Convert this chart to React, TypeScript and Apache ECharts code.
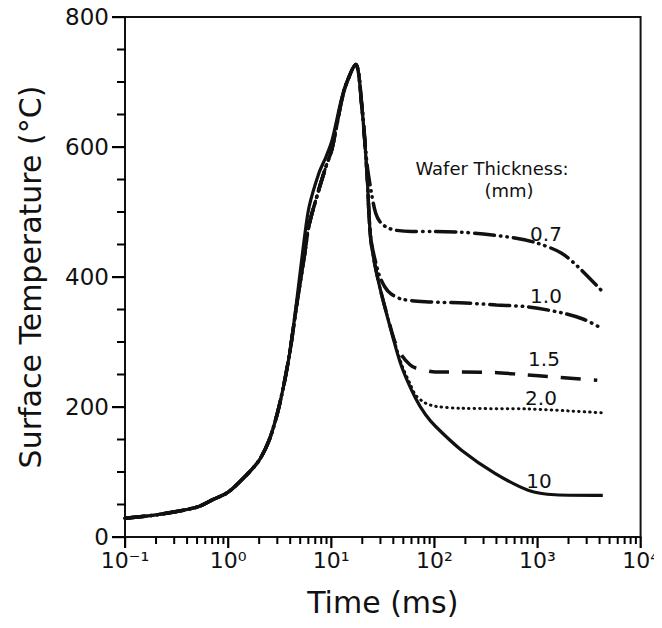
import React, { useEffect, useRef } from "react";
import * as echarts from "echarts";

// Time (ms) vs surface temperature (°C) for each wafer thickness (mm)
const thick10: [number, number][] = [
  [0.1, 29], [0.2, 34], [0.5, 46], [0.7, 57], [1, 69], [1.5, 95], [2, 118], [2.5, 149],
  [3, 190], [3.5, 237], [4, 288], [4.6, 360], [5.46, 457], [6.1, 508], [7.6, 560],
  [8.9, 585], [10.2, 611], [13.3, 688], [17.3, 727], [19.8, 662], [22.2, 560],
  [24.2, 457], [28.9, 391], [38.6, 314], [48.2, 262], [65.9, 213], [82.3, 188],
  [103, 170], [182, 134], [387, 98], [812, 72], [1480, 65], [4300, 64],
];
const thick07: [number, number][] = [
  [0.1, 29], [0.2, 34], [0.5, 46], [0.7, 57], [1, 69], [1.5, 95], [2, 118], [2.5, 149],
  [3, 190], [3.5, 237], [4, 288], [4.6, 355], [5.46, 430], [6.1, 480], [7.6, 535],
  [8.9, 570], [10.2, 598], [13.3, 686], [17.3, 727], [19.8, 665], [22.2, 575],
  [24.5, 530], [27, 498], [30, 484], [35, 476], [42, 472], [60, 470], [100, 470],
  [182, 469], [300, 466], [603, 460], [1000, 452], [1700, 437], [2500, 415], [4300, 377],
];
const thick10mm1: [number, number][] = [
  [0.1, 29], [0.2, 34], [0.5, 46], [0.7, 57], [1, 69], [1.5, 95], [2, 118], [2.5, 149],
  [3, 190], [3.5, 237], [4, 288], [4.6, 355], [5.46, 430], [6.1, 480], [7.6, 535],
  [8.9, 570], [10.2, 598], [13.3, 686], [17.3, 727], [19.8, 662], [22.2, 562],
  [24.2, 460], [28.9, 405], [33, 385], [38, 374], [48, 366], [82, 362], [200, 360],
  [400, 357], [812, 354], [1700, 345], [2800, 335], [4300, 320],
];
const thick15: [number, number][] = [
  [0.1, 29], [0.2, 34], [0.5, 46], [0.7, 57], [1, 69], [1.5, 95], [2, 118], [2.5, 149],
  [3, 190], [3.5, 237], [4, 288], [4.6, 355], [5.46, 430], [6.1, 480], [7.6, 535],
  [8.9, 570], [10.2, 598], [13.3, 686], [17.3, 727], [19.8, 662], [22.2, 560],
  [24.2, 457], [28.9, 391], [38.6, 316], [42, 298], [48, 280], [58, 265], [66, 260],
  [103, 254], [182, 254], [387, 253], [700, 250], [1500, 246], [3800, 241],
];
const thick20: [number, number][] = [
  [0.1, 29], [0.2, 34], [0.5, 46], [0.7, 57], [1, 69], [1.5, 95], [2, 118], [2.5, 149],
  [3, 190], [3.5, 237], [4, 288], [4.6, 355], [5.46, 430], [6.1, 480], [7.6, 535],
  [8.9, 570], [10.2, 598], [13.3, 686], [17.3, 727], [19.8, 662], [22.2, 560],
  [24.2, 457], [28.9, 391], [38.6, 316], [48.2, 265], [58, 236], [66, 218], [82, 206],
  [103, 201], [182, 198], [812, 197], [2000, 194], [4300, 191],
];

const xMajorTicks = [0.1, 1, 10, 100, 1000, 10000];
const minorMultipliers = [2, 3, 4, 5, 6, 7, 8, 9];
const yMajorTicks = [0, 200, 400, 600, 800];
const yMinorTicks = [50, 100, 150, 250, 300, 350, 450, 500, 550, 650, 700, 750];
const curveLabels = ["0.7", "1.0", "1.5", "2.0", "10"];

const FONT = "DejaVu Sans";
const INK = "#111";

const sup: Record<string, string> = {
  "-": "\u207B", "0": "\u2070", "1": "\u00B9", "2": "\u00B2", "3": "\u00B3", "4": "\u2074",
};

export default function App() {
  const ref = useRef<HTMLDivElement>(null);
  useEffect(() => {
    if (!ref.current) return;
    const chart = echarts.init(ref.current, undefined, { renderer: "svg" });

    const lineSeries = (name: string, data: [number, number][], lineStyle: any, z: number) => ({
      name,
      type: "line",
      data,
      smooth: 0.3,
      showSymbol: false,
      symbol: "none",
      z,
      lineStyle: { color: INK, width: 3, ...lineStyle },
    });

    const textEl = (text: string, x: number, y: number, size: number) => ({
      type: "text", x, y, z: 50,
      style: { text, font: `${size}px "${FONT}"`, fill: INK, align: "center", verticalAlign: "middle" },
    });

    chart.setOption({
      animation: false,
      backgroundColor: "#fff",
      grid: {
        left: 125, right: 19, top: 17, bottom: 91,
        show: true, borderColor: INK, borderWidth: 2, backgroundColor: "transparent",
      },
      xAxis: {
        type: "log",
        logBase: 10,
        min: 0.1,
        max: 10000,
        name: "Time (ms)",
        nameLocation: "middle",
        nameGap: 50,
        nameTextStyle: { fontFamily: FONT, fontSize: 30, color: INK },
        axisLine: { show: true, lineStyle: { color: INK, width: 2 } },
        axisTick: { show: false },
        axisLabel: {
          fontFamily: FONT, fontSize: 22, color: INK, margin: 12,
          formatter: (v: number) => {
            const e = String(Math.round(Math.log10(v)));
            return "10" + e.split("").map((c) => sup[c] || c).join("");
          },
        },
        splitLine: { show: false },
      },
      yAxis: {
        type: "value",
        min: 0,
        max: 800,
        interval: 200,
        name: "Surface Temperature (\u00B0C)",
        nameLocation: "middle",
        nameGap: 80,
        nameTextStyle: { fontFamily: FONT, fontSize: 30, color: INK },
        axisLine: { show: true, lineStyle: { color: INK, width: 2 } },
        axisTick: { show: false },
        axisLabel: { fontFamily: FONT, fontSize: 23, color: INK, margin: 16 },
        splitLine: { show: false },
      },
      series: [
        lineSeries("10", thick10, { type: "solid", width: 3.2 }, 5),
        lineSeries("0.7", thick07, { type: [20, 6, 0.5, 6, 0.5, 6], cap: "round", width: 3.5 }, 4),
        lineSeries("1.0", thick10mm1, { type: [20, 6, 0.5, 6, 0.5, 6], cap: "round", width: 3.5 }, 4),
        lineSeries("1.5", thick15, { type: [20, 13], cap: "butt", width: 3.5 }, 4),
        lineSeries("2.0", thick20, { type: [0.5, 5], cap: "round", width: 3 }, 4),
      ],
    });

    // Axis ticks placed through the chart's own scales
    const toPx = (x: number, y: number) =>
      chart.convertToPixel({ gridIndex: 0 }, [x, y]) as number[];
    const tickRect = (x: number, y: number, w: number, h: number) => ({
      type: "rect", z: 40, silent: true,
      shape: { x, y, width: w, height: h },
      style: { fill: "#000" },
    });
    const ticks: any[] = [];
    xMajorTicks.forEach((d, i) => {
      const p = toPx(d, 0);
      ticks.push(tickRect(p[0] - 1, p[1], 2.2, 11));
      if (i < xMajorTicks.length - 1) {
        minorMultipliers.forEach((m) => {
          const q = toPx(d * m, 0);
          ticks.push(tickRect(q[0] - 1, q[1], 2, 7));
        });
      }
    });
    yMajorTicks.forEach((v) => {
      const p = toPx(0.1, v);
      ticks.push(tickRect(p[0] - 13, p[1] - 1, 13, 2.2));
    });
    yMinorTicks.forEach((v) => {
      const p = toPx(0.1, v);
      ticks.push(tickRect(p[0] - 8, p[1] - 1, 9, 2));
    });

    chart.setOption({
      graphic: [
        textEl("Wafer Thickness:", 492, 168, 18),
        textEl("(mm)", 509, 190, 18),
        textEl(curveLabels[0], 546, 234, 20),
        textEl(curveLabels[1], 546, 296, 20),
        textEl(curveLabels[2], 544, 359, 20),
        textEl(curveLabels[3], 541, 398, 20),
        textEl(curveLabels[4], 539, 481, 20),
        ...ticks,
      ],
    });
    return () => chart.dispose();
  }, []);
  return <div ref={ref} style={{ width: 662, height: 628, margin: -8 }} />;
}
